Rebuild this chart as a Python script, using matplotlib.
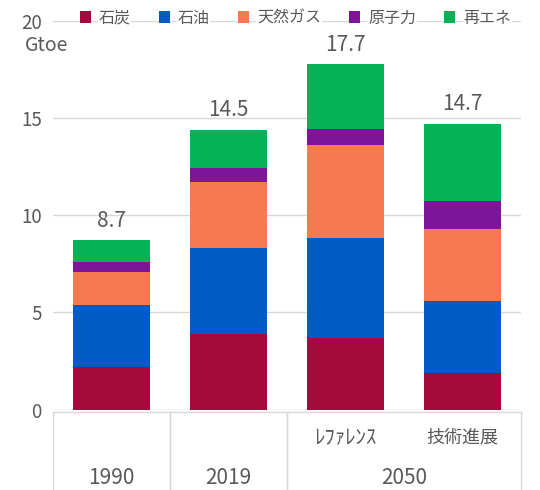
import matplotlib
matplotlib.use("Agg")
import matplotlib.pyplot as plt
import numpy as np
from matplotlib.patches import Patch

plt.rcParams['font.family'] = ['Noto Sans CJK JP', 'DejaVu Sans']

# データ (Gtoe)
categories = ['1990', '2019', 'ﾚﾌｧﾚﾝｽ', '技術進展']
groups = ['1990', '2019', '2050']
group_span = [(0, 0), (1, 1), (2, 3)]
coal = [2.2, 3.9, 3.7, 1.9]
oil = [3.2, 4.4, 5.1, 3.7]
gas = [1.7, 3.4, 4.8, 3.7]
nuclear = [0.5, 0.7, 0.85, 1.4]
renew = [1.1, 2.0, 3.3, 4.0]
totals = [8.7, 14.5, 17.7, 14.7]

series = [
    ('石炭', coal, '#A60A3D'),
    ('石油', oil, '#005BC5'),
    ('天然ガス', gas, '#F7794F'),
    ('原子力', nuclear, '#7E1599'),
    ('再エネ', renew, '#06B158'),
]

grey = '#595959'
fig = plt.figure(figsize=(5.4, 4.9), dpi=100)
ax = fig.add_axes([0.098, 0.164, 0.867, 0.794])

x = np.arange(len(categories))
bottom = np.zeros(len(categories))
for name, vals, col in series:
    ax.bar(x, vals, width=0.66, bottom=bottom, color=col, zorder=2, label=name)
    bottom += np.array(vals)

for xi, top, t in zip(x, bottom, totals):
    ax.annotate(f'{t:.1f}', (xi, top), xytext=(0, 6), textcoords='offset points',
                ha='center', va='bottom', fontsize=15, color=grey)

ax.set_xlim(-0.5, len(categories) - 0.5)
ax.set_ylim(0, 20)
ax.set_yticks([0, 5, 10, 15, 20])
ax.yaxis.grid(True, color='#D9D9D9', lw=1, zorder=0)
ax.set_axisbelow(True)
for s in ax.spines.values():
    s.set_visible(False)
ax.tick_params(axis='y', length=0, pad=8, labelsize=13.5, labelcolor=grey)
ax.set_xticks([])

# 多段カテゴリ軸
trans = ax.get_xaxis_transform()
box_top, box_bot = -0.007, -0.21
ax.plot([-0.5, len(categories) - 0.5], [box_top, box_top], color='#D9D9D9', lw=1,
        transform=trans, clip_on=False)
for g0, g1 in group_span:
    for xe in (g0 - 0.5, g1 + 0.5):
        ax.plot([xe, xe], [box_top, box_bot], color='#D9D9D9', lw=1,
                transform=trans, clip_on=False)
for (g0, g1), g in zip(group_span, groups):
    ax.text((g0 + g1) / 2, -0.176, g, transform=trans, ha='center', va='center',
            fontsize=15, color=grey)
    if g1 > g0:
        for i in range(g0, g1 + 1):
            # 半角カナは少し大きめ
            fs = 15 if 'ﾚ' in categories[i] else 13
            ax.text(i, -0.072, categories[i], transform=trans, ha='center',
                    va='center', fontsize=fs, color=grey)

fig.text(0.087, 0.908, 'Gtoe', ha='center', va='center', fontsize=14, color=grey)

handles = [Patch(facecolor=c, edgecolor='none') for _, _, c in series]
leg = fig.legend(handles, [n for n, _, _ in series], loc='center',
                 bbox_to_anchor=(0.547, 0.963), ncol=5, frameon=False, fontsize=11.5,
                 handlelength=0.7, handleheight=0.7, handletextpad=0.5,
                 columnspacing=1.75, labelcolor=grey)
for t in leg.get_texts():
    t.set_bbox(dict(facecolor='white', edgecolor='none', pad=0.5))

fig.savefig('out.png', dpi=100, facecolor='w')
